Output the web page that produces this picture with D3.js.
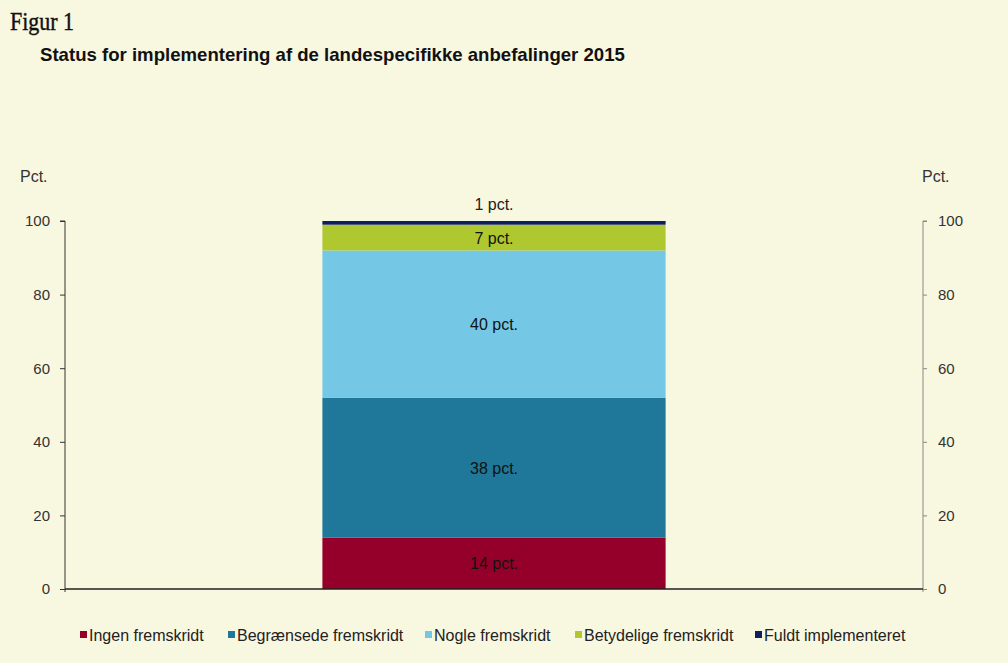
<!DOCTYPE html>
<html>
<head>
<meta charset="utf-8">
<script src="https://cdn.jsdelivr.net/npm/d3@7"></script>
<style>
  body { margin: 0; background: #f8f7e0; }
  svg { display: block; font-family: "Liberation Sans", Arial, sans-serif; }
</style>
</head>
<body>
<div id="chart"></div>
<script>
// data
const categories = ["Ingen fremskridt", "Begrænsede fremskridt", "Nogle fremskridt", "Betydelige fremskridt", "Fuldt implementeret"];
const values = [14, 38, 40, 7, 1];
const colors = ["#95002b", "#1f789a", "#74c8e6", "#b0c830", "#0c1f5f"];
const yTicks = [0, 20, 40, 60, 80, 100];

const width = 1008, height = 663;
const margin = {left: 65, right: 85, top: 221, bottom: 74};

// squeeze/stretch a text horizontally around its own x anchor
function stretch(sel, k) {
  sel.each(function() {
    let t = d3.select(this);
    let ax = +t.attr("x") || 0;
    t.attr("transform", `translate(${ax},0) scale(${k},1) translate(${-ax},0)`);
  });
}

let svg = d3.select("#chart").append("svg")
            .attr("width", width)
            .attr("height", height);

svg.append("rect").attr("width", width).attr("height", height).attr("fill", "#f8f7e0");

//titles
svg.append("text")
   .attr("x", 10).attr("y", 30)
   .style("font-family", "'Liberation Serif', 'DejaVu Serif', serif")
   .style("font-size", "25px")
   .attr("fill", "#111")
   .attr("stroke", "#111").attr("stroke-width", 0.4)
   .text("Figur 1")
   .call(stretch, 0.88);
svg.append("text")
   .attr("x", 40).attr("y", 61)
   .style("font-size", "18.6px")
   .style("font-weight", "bold")
   .attr("fill", "#111")
   .text("Status for implementering af de landespecifikke anbefalinger 2015");

//scales
let y = d3.scaleLinear().domain([0, 100]).range([height - margin.bottom, margin.top]);
let x = d3.scaleBand().domain(["2015"]).range([margin.left, width - margin.right]).paddingInner(0.6).paddingOuter(0.3);

//stack the values
let stacked = [];
let acc = 0;
values.forEach(function(v, i) {
  stacked.push({name: categories[i], v: v, y0: acc, y1: acc + v, color: colors[i]});
  acc += v;
});

svg.selectAll("rect.bar").data(stacked).enter()
   .append("rect")
   .attr("class", "bar")
   .attr("x", x("2015"))
   .attr("width", x.bandwidth())
   .attr("y", function(d) { return y(d.y1) })
   .attr("height", function(d) { return y(d.y0) - y(d.y1) })
   .attr("fill", function(d) { return d.color });

//value labels
svg.selectAll("text.val").data(stacked).enter()
   .append("text")
   .attr("class", "val")
   .attr("x", x("2015") + x.bandwidth() / 2)
   .attr("y", function(d) {
     if (d.v < 3) return y(d.y1) - 11;
     return y((d.y0 + d.y1) / 2) + 6;
   })
   .attr("text-anchor", "middle")
   .style("font-size", "16px")
   .attr("fill", function(d) { return d.v < 3 ? "#222" : "#111" })
   .text(function(d) { return d.v + " pct." });

//axes
let leftAxis = svg.append("g")
   .attr("transform", `translate(${margin.left},0)`)
   .call(d3.axisLeft(y).tickValues(yTicks).tickSize(5).tickPadding(10));
leftAxis.select(".domain").attr("stroke", "#333").attr("d", `M-5,${y(100)}H0V${y(0) + 3}`);
leftAxis.selectAll(".tick line").attr("stroke", "#333");
leftAxis.selectAll(".tick text").style("font-size", "15px").attr("fill", "#333").attr("font-family", null);

let rightAxis = svg.append("g")
   .attr("transform", `translate(${width - margin.right},0)`)
   .call(d3.axisRight(y).tickValues(yTicks).tickSize(4).tickPadding(11));
rightAxis.select(".domain").attr("stroke", "#888").attr("d", `M4,${y(100)}H0V${y(0) + 3}`);
rightAxis.selectAll(".tick line").attr("stroke", "#888");
rightAxis.selectAll(".tick text").style("font-size", "15px").attr("fill", "#333").attr("font-family", null);

//baseline
svg.append("line")
   .attr("x1", margin.left).attr("x2", width - margin.right)
   .attr("y1", y(0)).attr("y2", y(0))
   .attr("stroke", "#222").attr("stroke-width", 1.5);

svg.append("text").attr("x", 20).attr("y", 182).style("font-size", "16px").attr("fill", "#333").text("Pct.");
svg.append("text").attr("x", 922).attr("y", 182).style("font-size", "16px").attr("fill", "#333").text("Pct.");

//legend
const legendX = [80, 228, 425, 575, 755];
let legend = svg.selectAll("g.leg").data(categories).enter()
   .append("g").attr("class", "leg")
   .attr("transform", function(d, i) { return `translate(${legendX[i]},636)` });
legend.append("rect").attr("x", 0).attr("y", -5).attr("width", 7).attr("height", 7)
      .attr("fill", function(d, i) { return colors[i] });
legend.append("text").attr("x", 9).attr("y", 5)
      .style("font-size", "16px").attr("fill", "#222")
      .text(function(d) { return d });
</script>
</body>
</html>
